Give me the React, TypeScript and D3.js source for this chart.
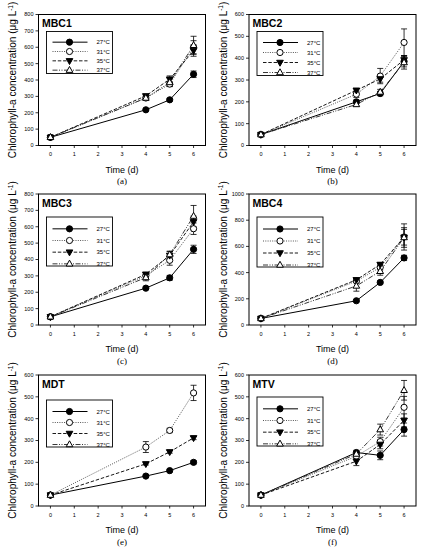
import { line, range, scaleLinear } from 'd3';

const width = 425;
const height = 550;
const frameWidth = 167;
const frameHeight = 131;
const colLefts = [38.5, 249];
const rowTops = [14.5, 194, 375];
const legendTops = [17, 17, 23, 23, 25, 22];
const legendHeights = [42, 44, 49, 50, 47, 49];
const sans = '"Liberation Sans", Arial, sans-serif';
const serif = '"Liberation Serif", "Times New Roman", serif';

// data
const days = [0, 4, 5, 6];
const temperatures = ['27°C', '31°C', '35°C', '37°C'];
const panelNames = ['MBC1', 'MBC2', 'MBC3', 'MBC4', 'MDT', 'MTV'];
const panelLetters = ['(a)', '(b)', '(c)', '(d)', '(e)', '(f)'];
const yMaxima = [800, 600, 800, 1000, 600, 600];
const yTickSteps = [100, 100, 100, 200, 100, 100];

const mbc1Means = [
	[50, 218, 279, 435],
	[50, 290, 375, 600],
	[50, 303, 405, 580],
	[50, 290, 385, 612],
];
const mbc1Errors = [
	[3, 5, 8, 20],
	[3, 10, 15, 40],
	[3, 8, 20, 35],
	[3, 15, 25, 55],
];
const mbc2Means = [
	[50, 200, 238, 385],
	[50, 235, 318, 472],
	[50, 253, 305, 392],
	[50, 188, 245, 380],
];
const mbc2Errors = [
	[3, 8, 10, 25],
	[3, 15, 35, 62],
	[3, 8, 15, 20],
	[3, 8, 12, 30],
];
const mbc3Means = [
	[50, 225, 288, 462],
	[50, 302, 395, 588],
	[50, 310, 425, 630],
	[50, 290, 430, 665],
];
const mbc3Errors = [
	[3, 8, 15, 25],
	[3, 10, 30, 35],
	[3, 10, 25, 35],
	[3, 20, 20, 65],
];
const mbc4Means = [
	[50, 185, 325, 512],
	[50, 335, 440, 672],
	[50, 345, 462, 670],
	[50, 298, 410, 668],
];
const mbc4Errors = [
	[3, 8, 10, 20],
	[3, 10, 20, 100],
	[3, 10, 15, 60],
	[3, 40, 30, 75],
];
const mdtMeans = [
	[50, 137, 162, 200],
	[50, 270, 346, 518],
	[50, 193, 248, 312],
	[50, null, null, null],
];
const mdtErrors = [
	[3, 5, 5, 8],
	[3, 25, 10, 35],
	[3, 5, 6, 8],
	[3, 0, 0, 0],
];
const mtvMeans = [
	[50, 245, 232, 350],
	[50, 228, 295, 452],
	[50, 205, 282, 392],
	[50, 238, 350, 530],
];
const mtvErrors = [
	[3, 10, 20, 30],
	[3, 10, 20, 50],
	[3, 20, 20, 30],
	[3, 12, 25, 45],
];

const panelMeans = [mbc1Means, mbc2Means, mbc3Means, mbc4Means, mdtMeans, mtvMeans];
const panelErrors = [mbc1Errors, mbc2Errors, mbc3Errors, mbc4Errors, mdtErrors, mtvErrors];

// series styles: 27 solid/filled circle, 31 dotted/open circle, 35 dashed/filled down triangle, 37 dash-dot-dot/open triangle
const seriesDash = ['none', '1,1.3', '3.5,1.8', '5,1.5,1,1.5,1,1.5'];
const seriesStroke = ['#000', '#444', '#000', '#222'];

const Marker = ({ kind, x, y }: { kind: number; x: number; y: number }) => {
	const r = 3.1;
	if (kind === 0 || kind === 1) {
		return (
			<circle cx={x} cy={y} r={r} fill={kind === 0 ? '#000' : '#fff'} stroke="#000" strokeWidth={1} />
		);
	}
	const t = 3.7;
	const pts =
		kind === 2
			? [[x, y + t], [x + t * 0.9, y - t * 0.6], [x - t * 0.9, y - t * 0.6]]
			: [[x, y - t], [x + t * 0.9, y + t * 0.6], [x - t * 0.9, y + t * 0.6]];
	return (
		<polygon
			points={pts.map(p => p.join(',')).join(' ')}
			fill={kind === 2 ? '#000' : '#fff'}
			stroke="#000"
			strokeWidth={1}
		/>
	);
};

const Panel = ({ index }: { index: number }) => {
	const left = colLefts[index % 2];
	const top = rowTops[Math.floor(index / 2)];
	const bottom = top + frameHeight;
	const means = panelMeans[index];
	const errors = panelErrors[index];

	const xScale = scaleLinear().domain([-0.5, 6.5]).range([left, left + frameWidth]);
	const yScale = scaleLinear().domain([0, yMaxima[index]]).range([bottom, top]);
	const yTicks = range(0, yMaxima[index] + 1, yTickSteps[index]);
	const xTicks = range(0, 7);

	const pathFor = (values: (number | null)[]) =>
		line<number | null>()
			.defined(d => d !== null)
			.x((_, i) => xScale(days[i]))
			.y(d => yScale(d as number))(values) || '';

	const legendLeft = left + 8;
	const legendTop = top + legendTops[index];
	const legendHeight = legendHeights[index];
	const rowGap = (legendHeight - 14) / 3;

	return (
		<g>
			{/* axis ticks */}
			{yTicks.map(t => (
				<g key={'y' + t}>
					<line x1={left - 3} x2={left} y1={yScale(t)} y2={yScale(t)} stroke="#000" strokeWidth={0.8} />
					<text x={left - 5} y={yScale(t)} dy="0.35em" textAnchor="end" fontSize={5.5} fontFamily={sans}>
						{t}
					</text>
				</g>
			))}
			{xTicks.map(t => (
				<g key={'x' + t}>
					<line x1={xScale(t)} x2={xScale(t)} y1={bottom} y2={bottom + 2.5} stroke="#000" strokeWidth={0.8} />
					<text x={xScale(t)} y={bottom + 10.5} textAnchor="middle" fontSize={5.5} fontFamily={sans}>
						{t}
					</text>
				</g>
			))}

			{/* series lines */}
			{means.map((values, s) => (
				<path
					key={'l' + s}
					d={pathFor(values)}
					fill="none"
					stroke={seriesStroke[s]}
					strokeWidth={s === 0 ? 1 : 0.9}
					strokeDasharray={seriesDash[s]}
				/>
			))}

			{/* error bars */}
			{means.map((values, s) =>
				values.map((v, i) => {
					if (v === null) return null;
					const e = errors[s][i];
					const x = xScale(days[i]);
					const y1 = yScale(v + e);
					const y2 = yScale(v - e);
					return (
						<g key={'e' + s + '-' + i} stroke="#000" strokeWidth={0.8}>
							<line x1={x} x2={x} y1={y1} y2={y2} />
							<line x1={x - 3} x2={x + 3} y1={y1} y2={y1} />
							<line x1={x - 3} x2={x + 3} y1={y2} y2={y2} />
						</g>
					);
				})
			)}

			{/* markers */}
			{means.map((values, s) =>
				values.map((v, i) =>
					v === null ? null : (
						<Marker key={'m' + s + '-' + i} kind={s} x={xScale(days[i])} y={yScale(v)} />
					)
				)
			)}

			{/* frame */}
			<rect x={left} y={top} width={frameWidth} height={frameHeight} fill="none" stroke="#000" strokeWidth={1} />

			{/* panel title */}
			<text x={left + 3.5} y={top + 12.5} fontSize={10.5} fontWeight="bold" fontFamily={sans}>
				{panelNames[index]}
			</text>

			{/* legend */}
			<rect
				x={legendLeft}
				y={legendTop}
				width={66}
				height={legendHeight}
				fill="#fff"
				stroke="#000"
				strokeWidth={0.9}
			/>
			{temperatures.map((label, s) => {
				const y = legendTop + 7 + rowGap * s + rowGap / 2 - 1;
				return (
					<g key={'g' + s}>
						<line
							x1={legendLeft + 6}
							x2={legendLeft + 41}
							y1={y}
							y2={y}
							stroke={seriesStroke[s]}
							strokeWidth={s === 0 ? 1 : 0.9}
							strokeDasharray={seriesDash[s]}
						/>
						<Marker kind={s} x={legendLeft + 23} y={y} />
						<text x={legendLeft + 50} y={y} dy="0.35em" fontSize={6} fontFamily={sans}>
							{label}
						</text>
					</g>
				);
			})}

			{/* axis labels */}
			<text
				transform={`translate(${left - 26},${top + frameHeight / 2}) rotate(-90)`}
				textAnchor="middle"
				dy="0.35em"
				fontSize={10}
				fontFamily={sans}
			>
				Chlorophyll-a concentration (μg L
				<tspan dy={-3.5} fontSize={6.5}>
					-1
				</tspan>
				<tspan dy={3.5}>)</tspan>
			</text>
			<text x={left + frameWidth / 2} y={bottom + 27} textAnchor="middle" fontSize={9} fontFamily={sans}>
				Time (d)
			</text>
			<text x={left + frameWidth / 2} y={bottom + 38.5} textAnchor="middle" fontSize={9} fontFamily={serif}>
				{panelLetters[index]}
			</text>
		</g>
	);
};

const App = () => (
	<svg
		width={width}
		height={height}
		style={{ position: 'absolute', left: 0, top: 0, background: '#fff' }}
	>
		{panelNames.map((_, i) => (
			<Panel key={i} index={i} />
		))}
	</svg>
);

export default App;
